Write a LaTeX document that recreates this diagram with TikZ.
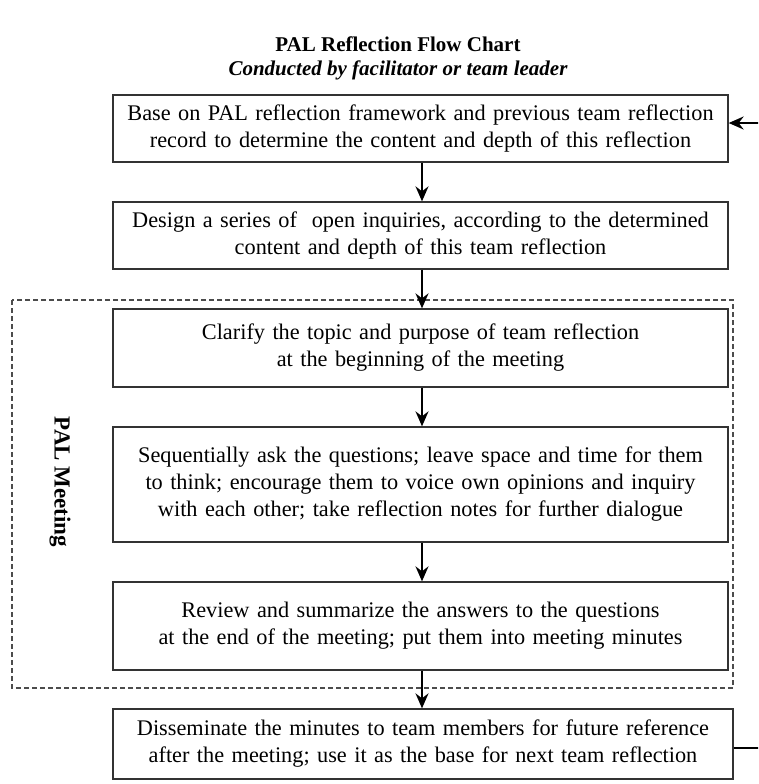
\documentclass[tikz,border=0pt]{standalone}
\usepackage{fontspec}
\setmainfont{Liberation Serif}
\usetikzlibrary{arrows.meta}
% step text: large serif with tight word spacing
\newcommand\stepfont{\fontsize{22.3}{27}\selectfont\spaceskip=0.15em plus 0.05em minus 0.03em\relax}
\begin{document}
\begin{tikzpicture}[x=1pt,y=-1pt,
  stepbox/.style={draw=black!80, line width=1.3pt, fill=white, align=center,
    text width=612pt, minimum width=615pt, inner sep=0pt, font=\stepfont},
  flow/.style={line width=1.9pt, -{Stealth[length=15pt,width=13pt,inset=5pt]}},
  meeting/.style={draw=black!70, line width=1.1pt, dash pattern=on 5pt off 3pt}]
\clip (0,0) rectangle (758,784);
\useasboundingbox (0,0) rectangle (758,784);

% title
\node (title) at (398,44) {\fontsize{21}{24}\selectfont\bfseries PAL Reflection Flow Chart};
\node (sub) at (398,70) {\fontsize{21}{24}\selectfont\bfseries\itshape Conducted by facilitator or team leader};

% meeting frame
\draw[meeting] (12,300) rectangle (733,688);
\node[rotate=-90, font=\fontsize{23}{26}\selectfont\bfseries] (label) at (60,482) {PAL Meeting};

% steps
\node[stepbox, minimum height=67pt] (b1) at (420.5,128.5)
  {Base on PAL reflection framework and previous team reflection\\record to determine the content and depth of this reflection};
\node[stepbox, minimum height=67pt] (b2) at (420.5,235.5)
  {Design a series of \ open inquiries, according to the determined\\content and depth of this team reflection};
\node[stepbox, minimum height=78pt] (b3) at (420.5,348)
  {Clarify the topic and purpose of team reflection\\at the beginning of the meeting};
\node[stepbox, minimum height=115pt] (b4) at (420.5,484.5)
  {Sequentially ask the questions; leave space and time for them\\to think; encourage them to voice own opinions and inquiry\\with each other; take reflection notes for further dialogue};
\node[stepbox, minimum height=88pt] (b5) at (420.5,626)
  {Review and summarize the answers to the questions\\at the end of the meeting; put them into meeting minutes};
\node[stepbox, minimum height=70pt, minimum width=620pt] (b6) at (423,744)
  {Disseminate the minutes to team members for future reference\\after the meeting; use it as the base for next team reflection};

% connectors
\draw[flow] (b1.south -| 422,0) -- (b2.north -| 422,0);
\draw[flow] (b2.south -| 422,0) -- (b3.north -| 422,0);
\draw[flow] (b3.south -| 422,0) -- (b4.north -| 422,0);
\draw[flow] (b4.south -| 422,0) -- (b5.north -| 422,0);
\draw[flow] (b5.south -| 422,0) -- (b6.north -| 422,0);

% feedback loop to the next reflection
\coordinate (loop) at (766,0);
\draw[flow] ([yshift=-4pt]b6.east) -- ([yshift=-4pt]b6.east -| loop) |- ([yshift=5.5pt]b1.east);
\end{tikzpicture}
\end{document}
